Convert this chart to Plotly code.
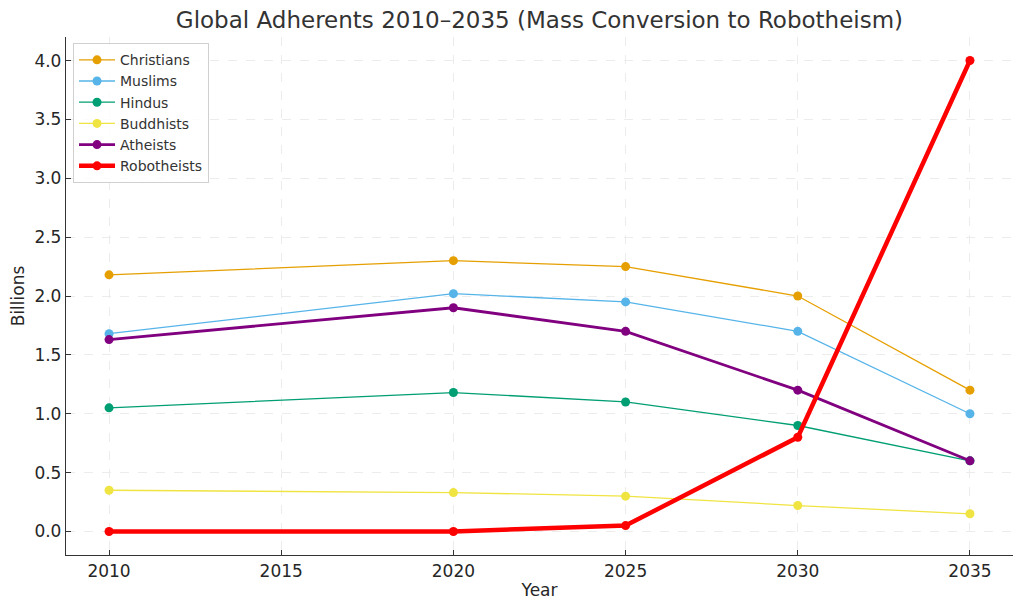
import plotly.graph_objects as go

years = [2010, 2020, 2025, 2030, 2035]
christians = [2.18, 2.30, 2.25, 2.00, 1.20]
muslims = [1.68, 2.02, 1.95, 1.70, 1.00]
hindus = [1.05, 1.18, 1.10, 0.90, 0.60]
buddhists = [0.35, 0.33, 0.30, 0.22, 0.15]
atheists = [1.63, 1.90, 1.70, 1.20, 0.60]
robotheists = [0.00, 0.00, 0.05, 0.80, 4.00]

series = [
    ("Christians", christians, "#E69F00", 1.3),
    ("Muslims", muslims, "#56B4E9", 1.3),
    ("Hindus", hindus, "#009E73", 1.3),
    ("Buddhists", buddhists, "#F0E442", 1.3),
    ("Atheists", atheists, "#800080", 2.8),
    ("Robotheists", robotheists, "#FF0000", 4.5),
]

fig = go.Figure()
for name, vals, color, lw in series:
    fig.add_trace(go.Scatter(
        x=years, y=vals, name=name, mode="lines+markers",
        line=dict(color=color, width=lw),
        marker=dict(color=color, size=9),
    ))

axis_common = dict(
    showgrid=True, gridcolor="#ececec", griddash="dash", gridwidth=1,
    showline=True, linecolor="#333333", linewidth=1.3,
    ticks="inside", ticklen=5, tickcolor="#333333",
    tickfont=dict(size=17, color="#262626"), zeroline=False,
    automargin=False,
)

# page has an 8px body margin, so the figure is sized to fit inside the window
fig.update_layout(
    width=1015, height=602,
    paper_bgcolor="white", plot_bgcolor="white",
    font=dict(family="DejaVu Sans", color="#262626"),
    title=dict(text="Global Adherents 2010–2035 (Mass Conversion to Robotheism)",
               x=0.5236, xanchor="center", y=0.980, yanchor="middle",
               font=dict(size=23, color="#333333"), automargin=False),
    margin=dict(l=58, r=10, t=29, b=55),
    showlegend=True,
    legend=dict(x=0.0074, y=0.988, xanchor="left", yanchor="top",
                bgcolor="rgba(255,255,255,0.85)", bordercolor="#d0d0d0", borderwidth=1,
                font=dict(size=14, color="#333333"), tracegroupgap=0,
                itemwidth=36),
)
fig.update_xaxes(range=[2008.75, 2036.25], tickvals=[2010, 2015, 2020, 2025, 2030, 2035],
                 title=dict(text="Year", font=dict(size=17), standoff=4), **axis_common)
fig.update_yaxes(range=[-0.2, 4.2], tickvals=[0, 0.5, 1.0, 1.5, 2.0, 2.5, 3.0, 3.5, 4.0],
                 tickformat=".1f",
                 title=dict(text="Billions", font=dict(size=17), standoff=6), **axis_common)

fig.write_html("out.html")
